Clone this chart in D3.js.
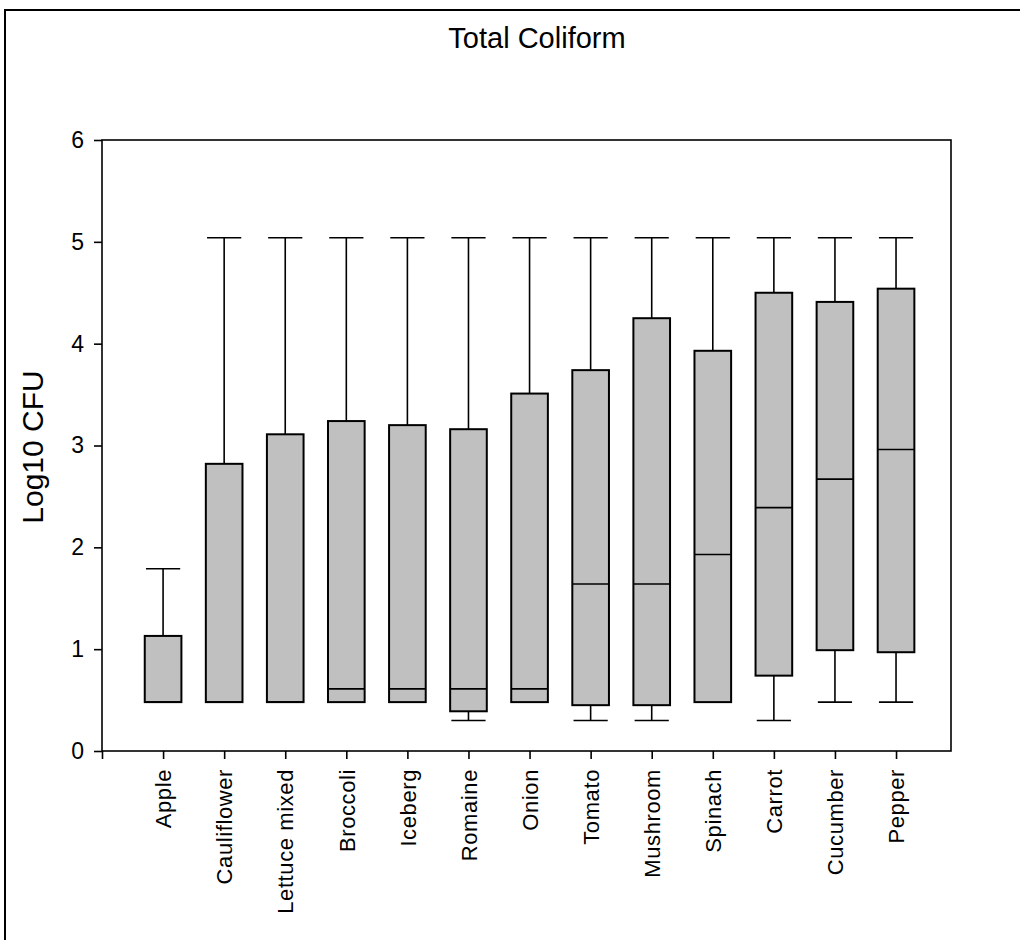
<!DOCTYPE html>
<html>
<head>
<meta charset="utf-8">
<script src="https://cdn.jsdelivr.net/npm/d3@7/dist/d3.min.js"></script>
<style>
  html, body { margin: 0; padding: 0; background: #fff; }
  svg { display: block; }
  text { font-family: Arial, "Liberation Sans", sans-serif; fill: #000; }
</style>
</head>
<body>
<div id="chart"></div>
<script>
// Box plot summaries (log10 CFU) per produce type
const categories = ["Apple", "Cauliflower", "Lettuce mixed", "Broccoli", "Iceberg", "Romaine",
  "Onion", "Tomato", "Mushroom", "Spinach", "Carrot", "Cucumber", "Pepper"];
const whiskerLow  = [0.48, 0.48, 0.48, 0.48, 0.48, 0.30, 0.48, 0.30, 0.30, 0.48, 0.30, 0.48, 0.48];
const q1          = [0.48, 0.48, 0.48, 0.48, 0.48, 0.39, 0.48, 0.45, 0.45, 0.48, 0.74, 0.99, 0.97];
const median      = [0.48, 0.48, 0.48, 0.61, 0.61, 0.61, 0.61, 1.64, 1.64, 1.93, 2.39, 2.67, 2.96];
const q3          = [1.13, 2.82, 3.11, 3.24, 3.20, 3.16, 3.51, 3.74, 4.25, 3.93, 4.50, 4.41, 4.54];
const whiskerHigh = [1.79, 5.04, 5.04, 5.04, 5.04, 5.04, 5.04, 5.04, 5.04, 5.04, 5.04, 5.04, 5.04];
const yTicks = [0, 1, 2, 3, 4, 5, 6];

const W = 1020, H = 940;
const svg = d3.select("#chart").append("svg").attr("width", W).attr("height", H);

// outer frame of the figure
svg.append("rect").attr("x", 5).attr("y", 10).attr("width", W + 20).attr("height", H + 20)
  .attr("fill", "none").attr("stroke", "#000").attr("stroke-width", 2);

const x = d3.scaleLinear().domain([0, 13.9]).range([102, 951]);
const y = d3.scaleLinear().domain([0, 6]).range([751, 140]);

const data = categories.map((c, i) => ({
  name: c, pos: i + 1, lo: whiskerLow[i], q1: q1[i], med: median[i], q3: q3[i], hi: whiskerHigh[i]
}));

const boxW = x(0.6) - x(0);
const capW = x(0.56) - x(0);

const g = svg.append("g");
const items = g.selectAll("g.box").data(data).join("g").attr("class", "box");

// upper whiskers
items.append("line")
  .attr("x1", d => x(d.pos)).attr("x2", d => x(d.pos))
  .attr("y1", d => y(d.q3)).attr("y2", d => y(d.hi))
  .attr("stroke", "#000").attr("stroke-width", 1.6);
items.append("line")
  .attr("x1", d => x(d.pos) - capW / 2).attr("x2", d => x(d.pos) + capW / 2)
  .attr("y1", d => y(d.hi)).attr("y2", d => y(d.hi))
  .attr("stroke", "#000").attr("stroke-width", 1.6);

// lower whiskers where they extend below the box
const low = items.filter(d => d.lo < d.q1);
low.append("line")
  .attr("x1", d => x(d.pos)).attr("x2", d => x(d.pos))
  .attr("y1", d => y(d.q1)).attr("y2", d => y(d.lo))
  .attr("stroke", "#000").attr("stroke-width", 1.6);
low.append("line")
  .attr("x1", d => x(d.pos) - capW / 2).attr("x2", d => x(d.pos) + capW / 2)
  .attr("y1", d => y(d.lo)).attr("y2", d => y(d.lo))
  .attr("stroke", "#000").attr("stroke-width", 1.6);

// boxes
items.append("rect")
  .attr("x", d => x(d.pos) - boxW / 2).attr("width", boxW)
  .attr("y", d => y(d.q3)).attr("height", d => y(d.q1) - y(d.q3))
  .attr("fill", "#c0c0c0").attr("stroke", "#000").attr("stroke-width", 2);

// medians
items.append("line")
  .attr("x1", d => x(d.pos) - boxW / 2).attr("x2", d => x(d.pos) + boxW / 2)
  .attr("y1", d => y(d.med)).attr("y2", d => y(d.med))
  .attr("stroke", "#000").attr("stroke-width", 1.6);

// plot frame
svg.append("rect").attr("x", x(0)).attr("y", y(6))
  .attr("width", x(13.9) - x(0)).attr("height", y(0) - y(6))
  .attr("fill", "none").attr("stroke", "#000").attr("stroke-width", 1.6);

// y axis
const yAxis = svg.append("g").attr("transform", `translate(${x(0)},0)`)
  .call(d3.axisLeft(y).tickValues(yTicks).tickFormat(d3.format("d")).tickSize(8).tickSizeOuter(0).tickPadding(10));
yAxis.select(".domain").remove();
yAxis.selectAll(".tick line").attr("stroke", "#000").attr("stroke-width", 1.6);
yAxis.selectAll(".tick text").style("font-size", "23px").style("font-family", "Arial, 'Liberation Sans', sans-serif");

// x axis
const xTickVals = [0].concat(data.map(d => d.pos));
const xAxis = svg.append("g").attr("transform", `translate(0,${y(0)})`)
  .call(d3.axisBottom(x).tickValues(xTickVals).tickSize(8).tickSizeOuter(0)
    .tickFormat(v => v === 0 ? "" : categories[v - 1]));
xAxis.select(".domain").remove();
xAxis.selectAll(".tick line").attr("stroke", "#000").attr("stroke-width", 1.6);
xAxis.selectAll(".tick text")
  .style("font-size", "22px").style("letter-spacing", "0.6px")
  .style("font-family", "Arial, 'Liberation Sans', sans-serif")
  .attr("text-anchor", "end")
  .attr("transform", "rotate(-90)")
  .attr("x", -18).attr("y", 0).attr("dy", "0.35em");

// titles
svg.append("text").attr("x", 537).attr("y", 48).attr("text-anchor", "middle")
  .style("font-size", "29px").text("Total Coliform");
svg.append("text").attr("transform", "translate(43,447) rotate(-90)").attr("text-anchor", "middle")
  .style("font-size", "30px").text("Log10 CFU");
</script>
</body>
</html>
